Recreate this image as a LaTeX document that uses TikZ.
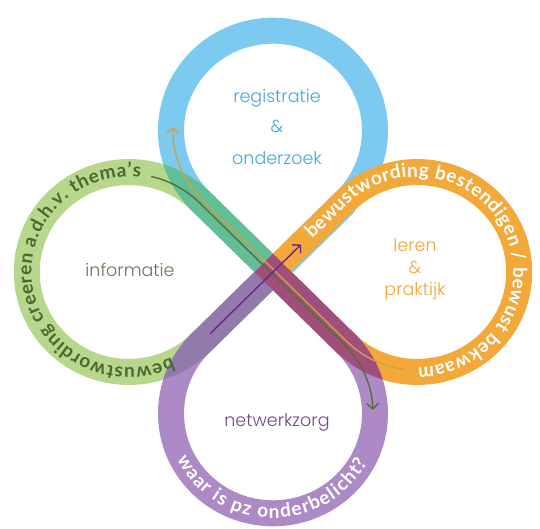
\documentclass[tikz,border=0pt]{standalone}
\usepackage{fontspec}
\setmainfont{Poppins}
\newfontfamily\ringfont{Lato}
\newfontfamily\innerfont{Poppins Light}
\usetikzlibrary{decorations.text,arrows.meta}
\definecolor{ringblue}{RGB}{124,202,239}
\definecolor{ringgreen}{RGB}{183,216,140}
\definecolor{ringorange}{RGB}{243,168,58}
\definecolor{ringpurple}{RGB}{172,138,198}
\definecolor{tealc}{RGB}{98,190,150}
\definecolor{greyp}{RGB}{145,122,172}
\definecolor{magc}{RGB}{162,78,122}
\definecolor{txtblue}{RGB}{70,168,220}
\definecolor{txtgreen}{RGB}{105,120,90}
\definecolor{txtorange}{RGB}{240,165,60}
\definecolor{txtpurple}{RGB}{115,72,148}
\definecolor{ringtxtgreen}{RGB}{75,105,45}
\definecolor{arrgreen}{RGB}{85,110,60}
\definecolor{arrtan}{RGB}{205,160,75}
\definecolor{arrpurple}{RGB}{100,40,135}
\newcommand\rfgreen{\ringfont\fontsize{19}{22}\selectfont\bfseries\color{ringtxtgreen}}
\newcommand\rfwhite{\ringfont\fontsize{19}{22}\selectfont\bfseries\color{white}}
\tikzset{
  tdrop/.style={line width=26pt, line join=miter},
  band/.style={line width=26pt},
  ringtext/.style={decorate, decoration={text along path, text align=fit to path, text={#1}}},
  inner/.style={font=\innerfont\fontsize{17.5}{20}\selectfont, inner sep=0pt, anchor=base},
  thinarrow/.style={line width=1.4pt, -{Straight Barb[length=5.5pt,width=12pt]}}
}
\begin{document}
\begin{tikzpicture}[x=1pt,y=1pt]
\fill[white] (0,0) rectangle (540,528);
\useasboundingbox (0,0) rectangle (540,528);
\begin{scope}[shift={(273,256)}, yscale=0.98]
  % the four loops
  \draw[tdrop, ringblue] (0,0) -- (72.12,72.12) arc[start angle=-45,end angle=225,radius=102] -- cycle;
  \draw[tdrop, ringgreen] (0,0) -- (-72.12,72.12) arc[start angle=45,end angle=315,radius=102] -- cycle;
  \draw[tdrop, ringorange] (0,0) -- (72.12,-72.12) arc[start angle=-135,end angle=135,radius=102] -- cycle;
  \draw[tdrop, ringpurple] (0,0) -- (-72.12,-72.12) arc[start angle=135,end angle=405,radius=102] -- cycle;
  % overlaps: upper left (blue + green)
  \draw[band, tealc] (0,0) -- (-72.83,72.83);
  \begin{scope}
    \clip (-300,-155.75) -- (155.75,300) -- (-300,300) -- cycle;
    \clip (0,144.25) circle[radius=115];
    \draw[band, tealc] (-144.25,0) circle[radius=102];
  \end{scope}
  % lower left (green + purple)
  \draw[band, greyp] (0,0) -- (-72.83,-72.83);
  \begin{scope}
    \clip (-300,155.75) -- (155.75,-300) -- (-300,-300) -- cycle;
    \clip (-144.25,0) circle[radius=115];
    \draw[band, greyp] (0,-144.25) circle[radius=102];
  \end{scope}
  % upper right (blue + orange)
  \draw[band, ringorange] (0,0) -- (72.12,72.12);
  \draw[ringblue, line width=1.8pt] (19.5,0.3) -- (81.7,62.5);
  % lower right (orange + purple)
  \draw[band, magc] (-9.19,9.19) -- (72.83,-72.83);
  \begin{scope}
    \clip (300,155.75) -- (-155.75,-300) -- (300,-300) -- cycle;
    \clip (144.25,0) circle[radius=115];
    \draw[band, magc] (0,-144.25) circle[radius=102];
  \end{scope}
  % thin arrows
  \coordinate (tanS) at (132.06,-99.25);
  \coordinate (tanB) at (-70.71,73.54);
  \coordinate (grS) at (-121.75,97.44);
  \coordinate (grB) at (70.71,-73.54);
  \coordinate (puS) at (-63,-63);
  \coordinate (puE) at (28,28);
  \draw[thinarrow, arrtan] (tanS) arc[start angle=-97,end angle=-135,radius=100] -- (tanB) arc[start angle=225,end angle=178,radius=100];
  \draw[thinarrow, arrgreen] (grS) arc[start angle=77,end angle=45,radius=100] -- (grB) arc[start angle=45,end angle=2,radius=100];
  \draw[thinarrow, arrpurple] (puS) -- (puE);
  % ring texts
  \path[ringtext={|\rfgreen|bewustwording creeren a.d.h.v. thema’s}] (-144.25,0) ++(-64:97.2) arc[start angle=-64,end angle=-277,radius=97.2];
  \path[ringtext={|\rfwhite|bewustwording bestendigen / bewust bekwaam}] (39.4,33.7) -- (74.4,68.7) arc[start angle=135,end angle=-89,radius=97.2];
  \path[ringtext={|\rfwhite|waar is pz onderbelicht?}] (0,-144.25) ++(206:106.8) arc[start angle=206,end angle=332,radius=106.8];
\end{scope}
% inner texts
\node[inner, text=txtblue] (reg) at (277,425) {registratie};
\node[inner, text=txtblue] (amp1) at (277,395) {\&};
\node[inner, text=txtblue] (ond) at (277,363) {onderzoek};
\node[inner, text=txtgreen] (inf) at (130,252) {informatie};
\node[inner, text=txtorange] (ler) at (415,276.3) {leren};
\node[inner, text=txtorange] (amp2) at (415,254.7) {\&};
\node[inner, text=txtorange] (pra) at (415,233) {praktijk};
\node[inner, text=txtpurple] (net) at (277,101.3) {netwerkzorg};
\end{tikzpicture}
\end{document}
